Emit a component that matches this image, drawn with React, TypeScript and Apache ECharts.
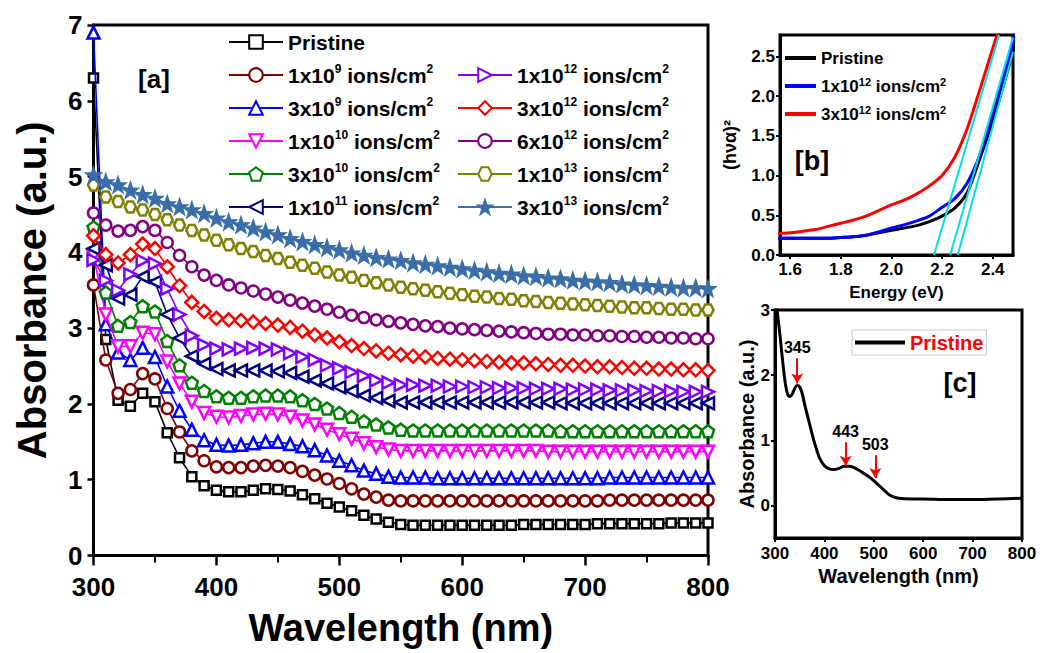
import React, { useEffect, useRef } from "react";
import * as echarts from "echarts";

const FONT = "'Liberation Sans', Arial, Helvetica, sans-serif";

// ---------- Panel [a] data ----------
const WAVELENGTH = [300,310,320,330,340,350,360,370,380,390,400,410,420,430,440,450,460,470,480,490,500,510,520,530,540,550,560,570,580,590,600,610,620,630,640,650,660,670,680,690,700,710,720,730,740,750,760,770,780,790,800];

const PRISTINE = [6.3,2.85,2.05,1.97,2.14,2.03,1.62,1.29,1.04,0.92,0.86,0.84,0.84,0.86,0.88,0.87,0.85,0.80,0.75,0.69,0.64,0.59,0.53,0.48,0.44,0.41,
  0.40,0.40,0.40,0.40,0.40,0.40,0.40,0.40,0.40,0.41,0.41,0.41,0.41,0.41,0.41,0.42,0.42,0.42,0.42,0.42,0.42,0.43,0.43,0.43,0.43];
const DOSE_1E9 = [3.57,2.58,2.14,2.19,2.40,2.33,1.94,1.63,1.38,1.25,1.17,1.16,1.16,1.18,1.19,1.18,1.16,1.11,1.06,1.01,0.95,0.88,0.81,0.77,0.73,0.72,
  0.72,0.72,0.72,0.72,0.72,0.72,0.72,0.72,0.72,0.72,0.72,0.72,0.72,0.72,0.72,0.72,0.73,0.73,0.73,0.73,0.73,0.73,0.73,0.73,0.73];
const DOSE_3E9 = [6.9,3.05,2.68,2.58,2.74,2.62,2.23,1.91,1.66,1.52,1.46,1.45,1.46,1.48,1.50,1.50,1.47,1.44,1.39,1.32,1.25,1.19,1.12,1.08,1.04,1.03,
  1.03,1.03,1.02,1.02,1.02,1.02,1.02,1.02,1.02,1.02,1.02,1.02,1.02,1.02,1.02,1.02,1.03,1.03,1.03,1.03,1.03,1.03,1.03,1.03,1.03];
const DOSE_1E10 = [3.95,3.18,2.76,2.76,2.94,2.92,2.56,2.27,2.03,1.88,1.83,1.82,1.84,1.86,1.87,1.86,1.83,1.78,1.73,1.66,1.60,1.54,1.48,1.43,1.40,1.38,
  1.38,1.38,1.38,1.38,1.38,1.38,1.38,1.38,1.38,1.38,1.38,1.37,1.37,1.37,1.37,1.37,1.37,1.37,1.37,1.37,1.37,1.37,1.37,1.37,1.37];
const DOSE_3E10 = [4.33,3.47,3.03,3.08,3.29,3.22,2.83,2.51,2.28,2.17,2.10,2.08,2.08,2.10,2.11,2.11,2.10,2.05,2.00,1.94,1.88,1.83,1.77,1.73,1.69,1.66,
  1.65,1.65,1.65,1.65,1.65,1.65,1.65,1.65,1.65,1.65,1.65,1.65,1.64,1.64,1.64,1.64,1.64,1.64,1.64,1.64,1.64,1.64,1.64,1.64,1.64];
const DOSE_1E11 = [4.05,3.83,3.39,3.44,3.68,3.61,3.18,2.87,2.63,2.53,2.46,2.44,2.44,2.44,2.44,2.43,2.41,2.36,2.31,2.27,2.22,2.17,2.11,2.08,2.04,2.02,
  2.02,2.02,2.02,2.02,2.02,2.02,2.02,2.02,2.02,2.02,2.02,2.02,2.01,2.01,2.01,2.01,2.01,2.01,2.01,2.01,2.01,2.01,2.01,2.01,2.01];
const DOSE_1E12 = [3.90,3.63,3.50,3.71,3.89,3.85,3.52,3.18,2.90,2.78,2.73,2.72,2.73,2.74,2.73,2.72,2.67,2.62,2.58,2.51,2.47,2.42,2.37,2.31,2.28,2.25,
  2.25,2.24,2.24,2.23,2.23,2.22,2.22,2.21,2.21,2.21,2.20,2.20,2.20,2.19,2.19,2.19,2.18,2.18,2.18,2.17,2.17,2.17,2.16,2.16,2.16];
const DOSE_3E12 = [4.22,3.97,3.86,3.97,4.11,4.05,3.81,3.56,3.34,3.22,3.13,3.11,3.10,3.08,3.06,3.04,3.01,2.96,2.91,2.87,2.82,2.77,2.73,2.70,2.67,2.65,
  2.63,2.62,2.60,2.59,2.58,2.57,2.56,2.55,2.54,2.54,2.53,2.52,2.51,2.51,2.50,2.49,2.49,2.48,2.47,2.47,2.46,2.46,2.45,2.45,2.44];
const DOSE_6E12 = [4.52,4.36,4.28,4.29,4.34,4.29,4.13,3.96,3.81,3.70,3.63,3.57,3.53,3.49,3.45,3.41,3.37,3.33,3.29,3.25,3.21,3.17,3.14,3.11,3.09,3.07,
  3.05,3.03,3.02,3.00,2.99,2.98,2.97,2.96,2.95,2.94,2.93,2.92,2.92,2.91,2.91,2.90,2.90,2.89,2.89,2.88,2.88,2.87,2.87,2.86,2.86];
const DOSE_1E13 = [4.89,4.73,4.67,4.60,4.56,4.50,4.43,4.36,4.29,4.23,4.16,4.10,4.05,4.01,3.96,3.92,3.87,3.83,3.79,3.74,3.70,3.67,3.63,3.60,3.57,3.54,
  3.52,3.50,3.48,3.46,3.44,3.42,3.41,3.39,3.38,3.36,3.35,3.34,3.33,3.32,3.31,3.30,3.29,3.28,3.27,3.27,3.26,3.25,3.25,3.24,3.24];
const DOSE_3E13 = [5.02,4.93,4.89,4.82,4.76,4.71,4.64,4.60,4.56,4.51,4.45,4.40,4.36,4.32,4.27,4.23,4.18,4.14,4.10,4.06,4.03,3.99,3.96,3.93,3.91,3.89,
  3.86,3.84,3.82,3.80,3.78,3.76,3.74,3.72,3.71,3.69,3.68,3.66,3.65,3.63,3.62,3.61,3.60,3.58,3.57,3.56,3.55,3.54,3.53,3.53,3.52];

const MAIN_NAMES = [
  "Pristine",
  "1x10^9 ions/cm^2",
  "3x10^9 ions/cm^2",
  "1x10^10 ions/cm^2",
  "3x10^10 ions/cm^2",
  "1x10^11 ions/cm^2",
  "1x10^12 ions/cm^2",
  "3x10^12 ions/cm^2",
  "6x10^12 ions/cm^2",
  "1x10^13 ions/cm^2",
  "3x10^13 ions/cm^2",
];
const MAIN_VALUES = [PRISTINE, DOSE_1E9, DOSE_3E9, DOSE_1E10, DOSE_3E10, DOSE_1E11, DOSE_1E12, DOSE_3E12, DOSE_6E12, DOSE_1E13, DOSE_3E13];

// ---------- Panel [b] data ----------
const ENERGY = [1.55,1.60,1.65,1.70,1.75,1.80,1.85,1.90,1.95,2.00,2.05,2.10,2.15,2.20,2.25,2.30,2.35,2.40,2.45,2.50];
const TAUC_PRISTINE = [0.21,0.21,0.21,0.21,0.21,0.22,0.23,0.25,0.28,0.31,0.34,0.37,0.42,0.49,0.59,0.79,1.22,1.69,2.22,2.80];
const TAUC_1E12 = [0.21,0.21,0.21,0.21,0.21,0.22,0.23,0.25,0.29,0.34,0.38,0.43,0.49,0.60,0.71,0.91,1.27,1.79,2.33,2.90];
const TAUC_3E12 = [0.27,0.28,0.30,0.32,0.36,0.40,0.44,0.49,0.56,0.63,0.69,0.77,0.87,1.00,1.23,1.60,2.09,2.60,3.10,3.60];
const FIT_PRISTINE = [[2.262, 0], [2.48, 2.56]];
const FIT_1E12 = [[2.232, 0], [2.48, 2.74]];
const FIT_3E12 = [[2.168, 0], [2.425, 2.77]];

// ---------- Panel [c] data ----------
const C_WAVELENGTH = [300,305,310,315,320,325,330,335,340,345,350,355,360,365,370,375,380,385,390,400,410,420,430,440,450,460,470,480,490,500,510,520,530,540,550,575,600,650,700,750,800];
const C_ABSORBANCE = [3.4,2.95,2.62,2.25,1.92,1.72,1.67,1.71,1.80,1.84,1.82,1.72,1.55,1.40,1.25,1.10,0.96,0.84,0.73,0.61,0.56,0.55,0.57,0.60,0.60,0.58,0.54,0.49,0.44,0.38,0.31,0.24,0.17,0.13,0.11,0.10,0.10,0.09,0.09,0.10,0.11];
const PEAKS = [345, 443, 503];
const PEAK_ARROW_TOP = [2.26, 0.97, 0.77];
const PEAK_ARROW_BOTTOM = [1.87, 0.61, 0.42];

// ---------- styles ----------
const SYM_DOWN = "path://M0,0L10,0L5,8.66Z";
const SYM_LEFT = "path://M0,5L8.66,0L8.66,10Z";
const SYM_RIGHT = "path://M0,0L8.66,5L0,10Z";
const SYM_PENT = "path://M5,0L9.76,3.45L7.94,9.05L2.06,9.05L0.24,3.45Z";
const SYM_HEX = "path://M2.5,0L7.5,0L10,4.33L7.5,8.66L2.5,8.66L0,4.33Z";
const SYM_STAR = "path://M5,0L6.18,3.38L9.76,3.45L6.9,5.62L7.94,9.05L5,7L2.06,9.05L3.1,5.62L0.24,3.45L3.82,3.38Z";

const MAIN_STYLE = [
  { color: "#000000", symbol: "rect", size: 9, filled: false },
  { color: "#800000", symbol: "circle", size: 11, filled: false },
  { color: "#0000FF", symbol: "triangle", size: 12, filled: false },
  { color: "#FF00FF", symbol: SYM_DOWN, size: 12, filled: false },
  { color: "#008000", symbol: SYM_PENT, size: 12, filled: false },
  { color: "#000080", symbol: SYM_LEFT, size: 12, filled: false },
  { color: "#8000FF", symbol: SYM_RIGHT, size: 12, filled: false },
  { color: "#FF0000", symbol: "diamond", size: 13, filled: false },
  { color: "#800080", symbol: "circle", size: 11, filled: false },
  { color: "#808000", symbol: SYM_HEX, size: 11, filled: false },
  { color: "#3A6EA8", symbol: SYM_STAR, size: 13, filled: true },
];

const supFmt = (name: string) => name.trim().replace(/\^(\d+)/g, "{sup|$1}");

export default function App() {
  const ref = useRef<HTMLDivElement>(null);
  useEffect(() => {
    if (!ref.current) return;
    const chart = echarts.init(ref.current, undefined, { renderer: "svg" });

    const black = "#000";
    const axisLine = { show: true, onZero: false, lineStyle: { color: black, width: 3 } };

    const mainSeries = MAIN_NAMES.map((name, i) => {
      const st = MAIN_STYLE[i];
      return {
        type: "line",
        name,
        xAxisIndex: 0,
        yAxisIndex: 0,
        data: WAVELENGTH.map((w, j) => [w, MAIN_VALUES[i][j]]),
        symbol: st.symbol,
        symbolSize: st.size,
        showAllSymbol: true,
        color: st.color,
        lineStyle: { color: st.color, width: 1.6 },
        itemStyle: { color: st.filled ? st.color : "#fff", borderColor: st.color, borderWidth: 2.5 },
        z: 3 + i,
      };
    });

    const taucSeries = [
      { name: "Pristine ", vals: TAUC_PRISTINE, color: "#000000" },
      { name: "1x10^12 ions/cm^2 ", vals: TAUC_1E12, color: "#0000FF" },
      { name: "3x10^12 ions/cm^2 ", vals: TAUC_3E12, color: "#FF0000" },
    ].map((s) => ({
      type: "line",
      name: s.name,
      xAxisIndex: 1,
      yAxisIndex: 1,
      data: ENERGY.map((e, j) => [e, s.vals[j]]),
      symbol: "none",
      smooth: 0.25,
      color: s.color,
      lineStyle: { color: s.color, width: 3 },
      z: 5,
    }));

    const fitSeries = [FIT_PRISTINE, FIT_1E12, FIT_3E12].map((d, i) => ({
      type: "line",
      name: "fit" + i,
      xAxisIndex: 1,
      yAxisIndex: 1,
      data: d,
      symbol: "none",
      color: "#00E0E8",
      lineStyle: { color: "#00E0E8", width: 2 },
      z: 6,
    }));

    const insetC = {
      type: "line",
      name: "Pristine  ",
      xAxisIndex: 2,
      yAxisIndex: 2,
      data: C_WAVELENGTH.map((w, j) => [w, C_ABSORBANCE[j]]),
      symbol: "none",
      smooth: 0.3,
      color: "#000",
      lineStyle: { color: "#000", width: 3 },
      markLine: {
        silent: true,
        symbol: ["none", "arrow"],
        symbolSize: [9, 10],
        lineStyle: { color: "#FF0000", width: 2, type: "solid" },
        label: {
          show: true,
          position: "start",
          formatter: "{b}",
          fontFamily: FONT,
          fontSize: 16,
          fontWeight: "bold",
          color: "#000",
          distance: 3,
        },
        data: PEAKS.map((p, i) => [
          { name: String(p), coord: [p, PEAK_ARROW_TOP[i]] },
          { coord: [p, PEAK_ARROW_BOTTOM[i]] },
        ]),
      },
    };

    const tickLabel = (size: number, margin: number, extra: any = {}) => ({
      fontFamily: FONT,
      fontSize: size,
      fontWeight: "bold",
      color: black,
      margin,
      ...extra,
    });
    const nameStyle = (size: number) => ({ fontFamily: FONT, fontSize: size, fontWeight: "bold", color: black });

    const legendText = (size: number, lh: number, supSize: number, color = black) => ({
      fontFamily: FONT,
      fontSize: size,
      fontWeight: "bold",
      color,
      lineHeight: lh,
      rich: {
        sup: { fontFamily: FONT, fontSize: supSize, fontWeight: "bold", color, lineHeight: Math.round(lh / 2), verticalAlign: "top" },
      },
    });

    const option: any = {
      animation: false,
      backgroundColor: "#fff",
      grid: [
        { left: 93.5, top: 25, width: 614.5, height: 530.5, show: true, borderColor: black, borderWidth: 3 },
        { left: 780, top: 35, width: 233, height: 220, show: true, borderColor: black, borderWidth: 3 },
        { left: 775, top: 310, width: 247, height: 228, show: true, borderColor: black, borderWidth: 3 },
      ],
      xAxis: [
        {
          gridIndex: 0, type: "value", min: 300, max: 800, interval: 100,
          axisLine, splitLine: { show: false },
          axisTick: { show: true, length: 10, lineStyle: { color: black, width: 2.5 } },
          minorTick: { show: true, splitNumber: 2, length: 7, lineStyle: { color: black, width: 2 } },
          axisLabel: tickLabel(26, 18),
          name: "Wavelength (nm)", nameLocation: "middle", nameGap: 53, nameTextStyle: nameStyle(38),
        },
        {
          gridIndex: 1, type: "value", min: 1.56, max: 2.48,
          axisLine, splitLine: { show: false },
          axisTick: { show: true, length: 4, customValues: [1.6, 1.8, 2.0, 2.2, 2.4], lineStyle: { color: black, width: 2 } },
          axisLabel: tickLabel(17, 6, { customValues: [1.6, 1.8, 2.0, 2.2, 2.4], formatter: (v: number) => v.toFixed(1) }),
          name: "Energy (eV)", nameLocation: "middle", nameGap: 29, nameTextStyle: nameStyle(17),
        },
        {
          gridIndex: 2, type: "value", min: 300, max: 800, interval: 100,
          axisLine, splitLine: { show: false },
          axisTick: { show: true, length: 4, lineStyle: { color: black, width: 2 } },
          axisLabel: tickLabel(17, 7),
          name: "Wavelength (nm)", nameLocation: "middle", nameGap: 28, nameTextStyle: nameStyle(20),
        },
      ],
      yAxis: [
        {
          gridIndex: 0, type: "value", min: 0, max: 7, interval: 1,
          axisLine, splitLine: { show: false },
          axisTick: { show: true, length: 6, lineStyle: { color: black, width: 2.5 } },
          axisLabel: tickLabel(26, 11),
          name: "Absorbance (a.u.)", nameLocation: "middle", nameGap: 42, nameTextStyle: nameStyle(40),
        },
        {
          gridIndex: 1, type: "value", min: 0, max: 2.77,
          axisLine, splitLine: { show: false },
          axisTick: { show: true, length: 4, customValues: [0, 0.5, 1.0, 1.5, 2.0, 2.5], lineStyle: { color: black, width: 2 } },
          axisLabel: tickLabel(17, 5, { customValues: [0, 0.5, 1.0, 1.5, 2.0, 2.5], formatter: (v: number) => v.toFixed(1) }),
          name: "(hνα)²", nameLocation: "middle", nameGap: 41, nameTextStyle: nameStyle(18),
        },
        {
          gridIndex: 2, type: "value", min: -0.5, max: 3,
          axisLine, splitLine: { show: false },
          axisTick: { show: true, length: 4, customValues: [0, 1, 2, 3], lineStyle: { color: black, width: 2 } },
          axisLabel: tickLabel(17, 5, { customValues: [0, 1, 2, 3] }),
          name: "Absorbance (a.u.)", nameLocation: "middle", nameGap: 13, nameTextStyle: nameStyle(20),
        },
      ],
      legend: [
        {
          left: 228, top: 30, orient: "vertical", padding: 0, itemGap: 9, itemWidth: 54, itemHeight: 17,
          selectedMode: false, data: MAIN_NAMES.slice(0, 6), formatter: supFmt,
          textStyle: legendText(21, 24, 12),
        },
        {
          left: 457, top: 63, orient: "vertical", padding: 0, itemGap: 9, itemWidth: 54, itemHeight: 17,
          selectedMode: false, data: MAIN_NAMES.slice(6), formatter: supFmt,
          textStyle: legendText(21, 24, 12),
        },
        {
          left: 785, top: 48, orient: "vertical", padding: 0, itemGap: 8, itemWidth: 31, itemHeight: 4,
          selectedMode: false,
          data: ["Pristine ", "1x10^12 ions/cm^2 ", "3x10^12 ions/cm^2 "].map((n) => ({ name: n, icon: "rect" })),
          formatter: supFmt,
          textStyle: legendText(17, 20, 11),
        },
        {
          left: 852, top: 330, orient: "vertical", padding: [1, 3, 1, 3], itemWidth: 50, itemHeight: 4,
          borderColor: "#c8c8c8", borderWidth: 1,
          selectedMode: false,
          data: [{ name: "Pristine  ", icon: "rect" }],
          formatter: supFmt,
          textStyle: legendText(20, 23, 12, "#FF0000"),
        },
      ],
      graphic: [
        { type: "text", x: 154, y: 79, style: { text: "[a]", font: `bold 26px ${FONT}`, fill: black, align: "center", verticalAlign: "middle" } },
        { type: "text", x: 812, y: 161, style: { text: "[b]", font: `bold 27px ${FONT}`, fill: black, align: "center", verticalAlign: "middle" } },
        { type: "text", x: 960, y: 383, style: { text: "[c]", font: `bold 27px ${FONT}`, fill: black, align: "center", verticalAlign: "middle" } },
      ],
      series: [...mainSeries, ...taucSeries, ...fitSeries, insetC],
    };

    chart.setOption(option);
    return () => chart.dispose();
  }, []);

  return <div ref={ref} style={{ position: "absolute", left: 0, top: 0, width: 1040, height: 653, background: "#fff" }} />;
}
